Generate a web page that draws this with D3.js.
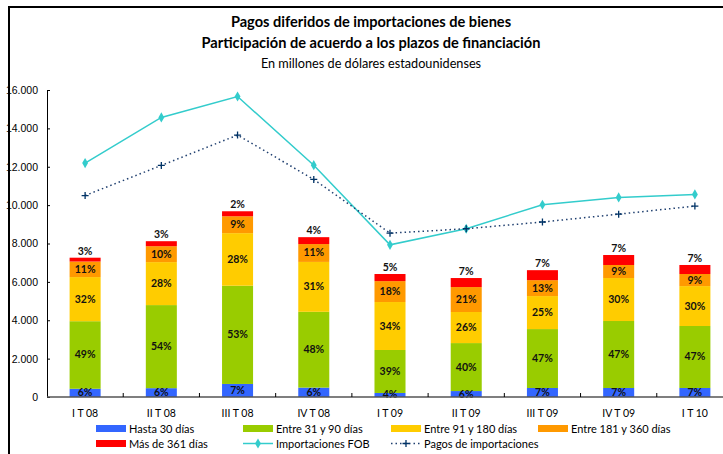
<!DOCTYPE html>
<html>
<head>
<meta charset="utf-8">
<script src="https://cdn.jsdelivr.net/npm/d3@7"></script>
<style>
  body { margin: 0; background: #fff; }
  svg { display: block; font-family: Lato, "DejaVu Sans", sans-serif; }
  .pct { font-size: 10.5px; font-weight: bold; fill: #111; }
  .tick text { font-size: 10.5px; fill: #000; }
</style>
</head>
<body>
<div class="container"></div>
<script>
const WIDTH = 723;
const HEIGHT = 454;

// millones de dólares
var categories = ["I T 08", "II T 08", "III T 08", "IV T 08", "I T 09", "II T 09", "III T 09", "IV T 09", "I T 10"];
var hasta30 = [430, 460, 680, 490, 210, 310, 470, 470, 470];
var entre31y90 = [3520, 4330, 5120, 3950, 2240, 2500, 3070, 3490, 3230];
var entre91y180 = [2300, 2240, 2740, 2600, 2500, 1620, 1720, 2240, 2080];
var entre181y360 = [810, 830, 880, 930, 1090, 1300, 830, 680, 630];
var mas361 = [200, 260, 260, 360, 370, 470, 520, 520, 470];
var importacionesFOB = [12190, 14570, 15660, 12080, 7930, 8770, 10020, 10400, 10560];
var pagosImportaciones = [10500, 12070, 13650, 11340, 8540, 8770, 9120, 9530, 9950];

// etiquetas de participación
var pctHasta30 = ["6%", "6%", "7%", "6%", "4%", "6%", "7%", "7%", "7%"];
var pct31y90 = ["49%", "54%", "53%", "48%", "39%", "40%", "47%", "47%", "47%"];
var pct91y180 = ["32%", "28%", "28%", "31%", "34%", "26%", "25%", "30%", "30%"];
var pct181y360 = ["11%", "10%", "9%", "11%", "18%", "21%", "13%", "9%", "9%"];
var pctMas361 = ["3%", "3%", "2%", "4%", "5%", "7%", "7%", "7%", "7%"];
var yTicks = [0, 2000, 4000, 6000, 8000, 10000, 12000, 14000, 16000];

var series = [
  { name: "Hasta 30 días", values: hasta30, labels: pctHasta30, color: "#3366FF" },
  { name: "Entre 31 y 90 días", values: entre31y90, labels: pct31y90, color: "#99CC00" },
  { name: "Entre 91 y 180 días", values: entre91y180, labels: pct91y180, color: "#FFCC00" },
  { name: "Entre 181 y 360 días", values: entre181y360, labels: pct181y360, color: "#FF9900" },
  { name: "Más de 361 días", values: mas361, labels: pctMas361, color: "#FF0000" }
];

var translate = function(x, y) {
  return `translate(${x},${y})`;
};

var locale = d3.formatLocale({ decimal: ",", thousands: ".", grouping: [3], currency: ["$", ""] });
var fmt = locale.format(",");

var svg = d3.select('.container').append('svg')
  .attr('width', WIDTH)
  .attr('height', HEIGHT);

// marco
svg.append('path')
  .attr('d', `M9,${HEIGHT} V7 H${WIDTH}`)
  .attr('fill', 'none')
  .attr('stroke', '#000')
  .attr('stroke-width', 2);

// titulos
var titleX = 371;
svg.append('text').attr('x', titleX).attr('y', 27).attr('text-anchor', 'middle')
  .style('font-size', '14.6px').style('font-weight', 'bold')
  .text('Pagos diferidos de importaciones de bienes');
svg.append('text').attr('x', titleX).attr('y', 48).attr('text-anchor', 'middle')
  .style('font-size', '14.6px').style('font-weight', 'bold')
  .text('Participación de acuerdo a los plazos de financiación');
svg.append('text').attr('x', titleX).attr('y', 68).attr('text-anchor', 'middle')
  .style('font-size', '12.7px')
  .text('En millones de dólares estadounidenses');

var xScale = d3.scaleBand()
  .domain(categories)
  .range([47, 733])
  .paddingInner(0.593)
  .paddingOuter(0.2965);

var yScale = d3.scaleLinear()
  .domain([0, 16000])
  .range([397, 90]);

// eje y
svg.append('g')
  .attr('transform', translate(47, 0))
  .call(d3.axisLeft(yScale).tickValues(yTicks).tickSize(-3).tickPadding(9).tickFormat(fmt))
  .call(g => g.select('.domain').attr('stroke', '#000'))
  .call(g => g.selectAll('.tick line').attr('stroke', '#000'));

// barras apiladas
var stackData = categories.map((c, i) => {
  var row = { cat: c };
  series.forEach((s, k) => { row['s' + k] = s.values[i]; });
  return row;
});
var stacked = d3.stack().keys(series.map((s, k) => 's' + k))(stackData);

var bars = svg.append('g');
stacked.forEach((layer, k) => {
  bars.selectAll(null).data(layer).enter()
    .append('rect')
    .attr('x', d => xScale(d.data.cat))
    .attr('width', xScale.bandwidth())
    .attr('y', d => yScale(d[1]))
    .attr('height', d => yScale(d[0]) - yScale(d[1]))
    .attr('fill', series[k].color);
});

// etiquetas de porcentaje
stacked.forEach((layer, k) => {
  var top = k === series.length - 1;
  bars.selectAll(null).data(layer).enter()
    .append('text')
    .classed('pct', true)
    .attr('x', d => xScale(d.data.cat) + xScale.bandwidth() / 2)
    .attr('y', d => top ? yScale(d[1]) - 3 : (yScale(d[0]) + yScale(d[1])) / 2 + 3.5)
    .attr('text-anchor', 'middle')
    .text((d, i) => series[k].labels[i]);
});

// eje x
var xAxis = svg.append('g').attr('transform', translate(0, 397));
xAxis.append('line')
  .attr('x1', 47).attr('x2', WIDTH)
  .attr('stroke', '#555').attr('stroke-width', 1.5);
xAxis.selectAll(null).data(categories).enter()
  .append('line')
  .attr('x1', d => xScale(d) + xScale.bandwidth() / 2 + xScale.step() / 2)
  .attr('x2', d => xScale(d) + xScale.bandwidth() / 2 + xScale.step() / 2)
  .attr('y1', 0).attr('y2', -4)
  .attr('stroke', '#000');
xAxis.selectAll(null).data(categories).enter()
  .append('text')
  .attr('x', d => xScale(d) + xScale.bandwidth() / 2)
  .attr('y', 20)
  .attr('text-anchor', 'middle')
  .style('font-size', '10.5px')
  .text(d => d);

// lineas
var cx = c => xScale(c) + xScale.bandwidth() / 2;
var line = d3.line().x((d, i) => cx(categories[i])).y(d => yScale(d));

svg.append('path')
  .attr('d', line(importacionesFOB))
  .attr('fill', 'none')
  .attr('stroke', '#33CCCC')
  .attr('stroke-width', 1.5);
svg.append('path')
  .attr('d', line(pagosImportaciones))
  .attr('fill', 'none')
  .attr('stroke', '#1F3F6F')
  .attr('stroke-width', 1.5)
  .attr('stroke-dasharray', '1.5 3');

var diamond = d3.symbol().type(d3.symbolDiamond).size(30);
var plus = 'M-3.5,0H3.5M0,-3.5V3.5';

svg.append('g').selectAll('path').data(importacionesFOB).enter()
  .append('path')
  .attr('transform', (d, i) => translate(cx(categories[i]), yScale(d)))
  .attr('d', diamond())
  .attr('fill', '#33CCCC');
svg.append('g').selectAll('path').data(pagosImportaciones).enter()
  .append('path')
  .attr('transform', (d, i) => translate(cx(categories[i]), yScale(d)))
  .attr('d', plus)
  .attr('stroke', '#003366')
  .attr('stroke-width', 1.3);

// leyenda
var legendCols = [96, 243, 391, 538];
var legendItems = series.map(s => ({ name: s.name, type: 'rect', color: s.color }))
  .concat([
    { name: 'Importaciones FOB', type: 'fob', color: '#33CCCC' },
    { name: 'Pagos de importaciones', type: 'pagos', color: '#1F3F6F' }
  ]);

var legend = svg.append('g');
legendItems.forEach((item, i) => {
  var col = i < 4 ? i : i - 4;
  var row = i < 4 ? 0 : 1;
  var g = legend.append('g').attr('transform', translate(legendCols[col], 425 + row * 15));
  if (item.type === 'rect') {
    g.append('rect').attr('width', 30).attr('height', 7).attr('fill', item.color);
  } else if (item.type === 'fob') {
    g.append('line').attr('x1', 0).attr('x2', 30).attr('y1', 3.5).attr('y2', 3.5)
      .attr('stroke', item.color).attr('stroke-width', 1.5);
    g.append('path').attr('transform', translate(15, 3.5)).attr('d', diamond()).attr('fill', item.color);
  } else {
    g.append('line').attr('x1', 0).attr('x2', 30).attr('y1', 3.5).attr('y2', 3.5)
      .attr('stroke', item.color).attr('stroke-width', 1.5).attr('stroke-dasharray', '1.5 3');
    g.append('path').attr('transform', translate(15, 3.5)).attr('d', plus)
      .attr('stroke', '#003366').attr('stroke-width', 1.3);
  }
  g.append('text').attr('x', 33).attr('y', 7.5)
    .style('font-size', '11px')
    .text(item.name);
});
</script>
</body>
</html>
